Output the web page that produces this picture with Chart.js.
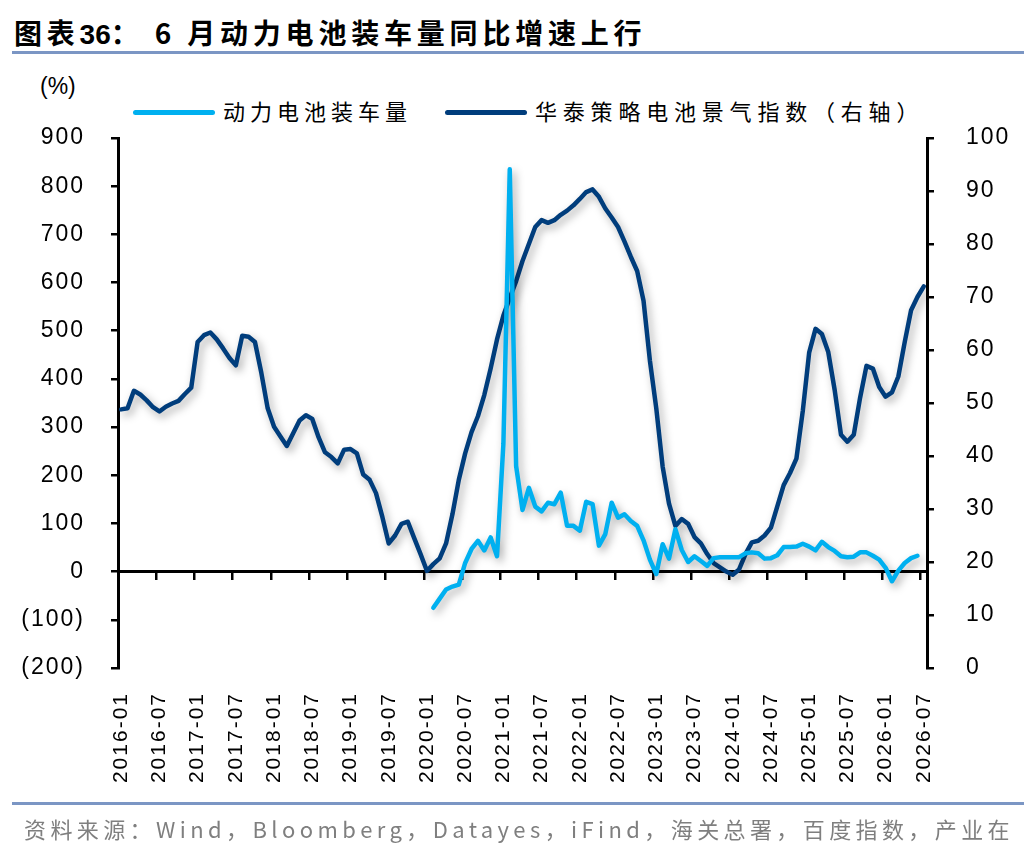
<!DOCTYPE html>
<html>
<head>
<meta charset="utf-8">
<script src="https://cdn.jsdelivr.net/npm/chart.js@4.4.1/dist/chart.umd.min.js"></script>
<style>
  html, body { margin: 0; padding: 0; background: #fff; }
  #wrap { position: relative; width: 1036px; height: 852px; overflow: hidden; }
  #chart { position: absolute; left: 0; top: 0; }
  .title { position: absolute; left: 14px; top: 12px; font: bold 28px "Noto Sans CJK SC", sans-serif;
           letter-spacing: 4.8px; color: #000; white-space: nowrap; line-height: 40px; }
  .title b { letter-spacing: 0; font-family: "Liberation Sans", Arial, sans-serif; }
  .rule { position: absolute; left: 12px; width: 1012px; height: 3px; background: #7b96c4; }
  .unit { position: absolute; left: 40px; top: 73px; font: 23px "Liberation Sans", Arial, sans-serif; color: #000; }
  .legend { position: absolute; top: 94px; height: 32px; font: 22px "Noto Sans CJK SC", sans-serif;
            letter-spacing: 5px; color: #000; white-space: nowrap; line-height: 32px; }
  .legend i { display: inline-block; width: 82px; height: 5px; border-radius: 3px; vertical-align: middle;
              margin-right: 8px; position: relative; top: -2px; }
  .source { position: absolute; left: 24px; top: 812px; font: 22px "Liberation Sans Narrow", "Noto Sans CJK SC", sans-serif;
            letter-spacing: 4.4px; color: #7f7f7f; white-space: nowrap; line-height: 32px; }
</style>
</head>
<body>
<div id="wrap">
  <div class="title">图表<b>36</b>：&nbsp;6 月动力电池装车量同比增速上行</div>
  <div class="rule" style="top:51px"></div>
  <div class="unit">(%)</div>
  <div class="legend" style="left:133px"><i style="background:#00b0f0"></i>动力电池装车量</div>
  <div class="legend" style="left:445px;letter-spacing:5.8px"><i style="background:#003d7c"></i>华泰策略电池景气指数（右轴）</div>
  <canvas id="chart" width="1036" height="852"></canvas>
  <div class="rule" style="top:802px"></div>
  <div class="source">资料来源：Wind，Bloomberg，Datayes，iFind，海关总署，百度指数，产业在</div>
</div>
<script>
// months on the category axis
const years = ["2016", "2017", "2018", "2019", "2020", "2021", "2022", "2023", "2024", "2025", "2026"];
const months = ["01", "02", "03", "04", "05", "06", "07", "08", "09", "10", "11", "12"];
const lastMonth2026 = "07";

// 华泰策略电池景气指数 (right axis), monthly
const index2016 = [48.8, 49.0, 52.3, 51.6, 50.5, 49.2, 48.4, 49.3, 49.9, 50.4, 51.7, 52.9];
const index2017 = [61.5, 62.8, 63.3, 62.0, 60.3, 58.5, 57.1, 62.7, 62.5, 61.5, 55.7, 49.0];
const index2018 = [45.5, 43.7, 41.9, 44.3, 46.7, 47.7, 47.0, 43.5, 40.7, 39.8, 38.6, 41.2];
const index2019 = [41.3, 40.5, 36.5, 35.5, 33.0, 28.5, 23.5, 25.0, 27.2, 27.6, 24.5, 21.5];
const index2020 = [18.3, 19.6, 20.7, 23.5, 29.0, 35.5, 40.5, 44.5, 47.5, 51.5, 56.5, 62.0];
const index2021 = [66.5, 69.8, 73.0, 76.8, 80.0, 83.2, 84.5, 84.0, 84.5, 85.5, 86.3, 87.3];
const index2022 = [88.5, 89.8, 90.3, 88.9, 86.7, 85.0, 83.2, 80.5, 77.6, 74.9, 69.3, 58.0];
const index2023 = [49.0, 38.0, 31.0, 26.8, 28.1, 27.2, 24.7, 23.5, 21.5, 19.8, 19.0, 18.2];
const index2024 = [17.6, 18.6, 21.5, 23.7, 24.0, 25.0, 26.5, 30.5, 34.5, 36.8, 39.5, 48.5];
const index2025 = [59.5, 64.0, 63.0, 59.6, 52.5, 44.0, 42.7, 44.0, 51.0, 57.0, 56.5, 53.0];
const index2026 = [51.2, 52.0, 55.0, 61.5, 67.5, 70.0, 72.0];

// 动力电池装车量同比 (%, left axis), starts 2020-02, ends 2026-06
const volumeStart = "2020-02";
const volume2020 = [-75, -56, -37, -31, -27, 18, 47, 64, 44, 71, 32];
const volume2021 = [265, 835, 219, 128, 174, 135, 125, 143, 140, 164, 95, 95];
const volume2022 = [85, 145, 140, 54, 78, 143, 112, 119, 105, 95, 65, 25];
const volume2023 = [-5, 57, 27, 88, 45, 20, 32, 22, 12, 28, 30, 30];
const volume2024 = [30, 30, 38, 40, 38, 27, 28, 34, 51, 51, 52, 58];
const volume2025 = [52, 44, 62, 51, 43, 32, 30, 31, 40, 40, 33, 25];
const volume2026 = [8, -20, 2, 18, 28, 33];

const leftTicks = { min: -200, max: 900, step: 100 };
const rightTicks = { min: 0, max: 100, step: 10 };

const labels = [];
years.forEach(y => months.forEach(m => {
  if (y !== "2026" || m <= lastMonth2026) labels.push(y + "-" + m);
}));

const indexValues = [].concat(index2016, index2017, index2018, index2019, index2020,
  index2021, index2022, index2023, index2024, index2025, index2026);
const volumeValues = [].concat(volume2020, volume2021, volume2022, volume2023,
  volume2024, volume2025, volume2026);

const startAt = labels.indexOf(volumeStart);
const volumeData = volumeValues.map((v, i) => ({ x: labels[startAt + i], y: v }));

const axisFont = { family: "Liberation Sans", size: 23 };
const black = "#000";

// soft drop shadow under both lines
const lineShadow = {
  id: "lineShadow",
  beforeDatasetsDraw(chart) {
    const c = chart.ctx;
    c.save();
    c.shadowColor = "rgba(0,0,0,0.34)";
    c.shadowBlur = 8;
    c.shadowOffsetX = 3;
    c.shadowOffsetY = 4;
  },
  afterDatasetsDraw(chart) {
    chart.ctx.restore();
  }
};

// slightly spaced axis text, like the original
const tickSpacing = {
  id: "tickSpacing",
  beforeDraw(chart) {
    chart.ctx.letterSpacing = "2px";
  }
};

new Chart(document.getElementById("chart"), {
  type: "line",
  data: {
    labels,
    datasets: [
      {
        label: "动力电池装车量",
        data: volumeData,
        yAxisID: "y",
        borderColor: "#00b0f0",
        borderWidth: 4.5,
        pointRadius: 0,
        tension: 0,
        borderJoinStyle: "round",
        borderCapStyle: "round",
        spanGaps: false
      },
      {
        label: "华泰策略电池景气指数（右轴）",
        data: indexValues,
        yAxisID: "y1",
        borderColor: "#003d7c",
        borderWidth: 4.5,
        pointRadius: 0,
        tension: 0,
        borderJoinStyle: "round",
        borderCapStyle: "round"
      }
    ]
  },
  options: {
    responsive: false,
    animation: false,
    layout: { padding: { top: 138, bottom: 54, left: 0, right: 0 } },
    plugins: {
      legend: { display: false },
      title: { display: false },
      tooltip: { enabled: false }
    },
    scales: {
      x: {
        type: "category",
        position: "bottom",
        offset: true,
        grid: { display: false, drawTicks: false },
        border: { display: false },
        ticks: {
          autoSkip: false,
          maxRotation: 90,
          minRotation: 90,
          padding: 24,
          color: black,
          font: { family: "Liberation Sans", size: 21 },
          callback(v, i) { return i % 6 === 0 ? this.getLabelForValue(v) : ""; }
        },
        afterFit(s) { s.height = 130; }
      },
      x2: {
        type: "category",
        position: { y: 0 },
        offset: true,
        grid: {
          offset: true,
          drawOnChartArea: false,
          drawTicks: true,
          tickLength: 7,
          lineWidth: 2.5,
          color: c => (c.index % 6 === 0 ? black : "rgba(0,0,0,0)")
        },
        border: { display: true, color: black, width: 3 },
        ticks: { display: false, autoSkip: false }
      },
      y: {
        position: "left",
        min: leftTicks.min,
        max: leftTicks.max,
        grid: { drawOnChartArea: false, tickLength: 7, color: black, lineWidth: 2.5 },
        border: { color: black, width: 3 },
        ticks: {
          stepSize: leftTicks.step,
          padding: 26,
          color: black,
          font: axisFont,
          callback: v => (v < 0 ? "(" + (-v) + ")" : String(v))
        },
        afterFit(s) { s.width = 118; }
      },
      y1: {
        position: "right",
        min: rightTicks.min,
        max: rightTicks.max,
        grid: { drawOnChartArea: false, tickLength: 7, color: black, lineWidth: 2.5 },
        border: { color: black, width: 3 },
        ticks: { stepSize: rightTicks.step, padding: 32, color: black, font: axisFont },
        afterFit(s) { s.width = 109; }
      }
    }
  },
  plugins: [lineShadow, tickSpacing]
});
</script>
</body>
</html>
